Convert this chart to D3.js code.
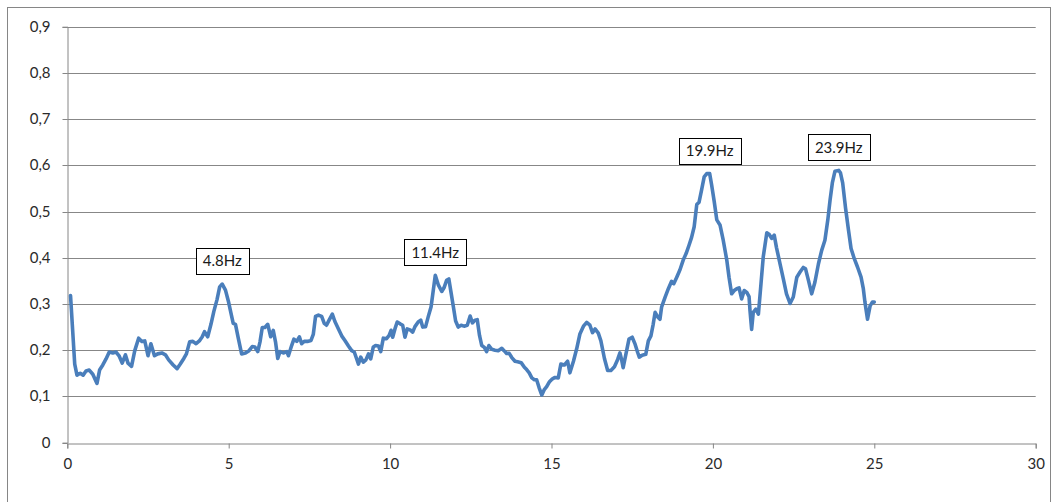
<!DOCTYPE html>
<html>
<head>
<meta charset="utf-8">
<script src="https://cdn.jsdelivr.net/npm/d3@7/dist/d3.min.js"></script>
<style>
  html, body { margin: 0; padding: 0; background: #fff; }
  svg { display: block; font-family: Lato, "Open Sans", sans-serif; }
</style>
</head>
<body>
<svg id="chart" width="1059" height="502"></svg>
<script>
// Spectrum amplitude vs frequency (Hz)
const freqHz = [
  0.10, 0.23, 0.30, 0.40, 0.49, 0.58, 0.68, 0.79, 0.92, 1.00,
  1.10, 1.20, 1.30, 1.41, 1.51, 1.61, 1.70, 1.80, 1.88, 1.99,
  2.09, 2.21, 2.31, 2.40, 2.50, 2.59, 2.70, 2.80, 2.93, 3.04,
  3.14, 3.28, 3.40, 3.50, 3.61, 3.69, 3.79, 3.89, 3.99, 4.09,
  4.18, 4.25, 4.35, 4.45, 4.54, 4.64, 4.72, 4.80, 4.90, 4.99,
  5.07, 5.14, 5.21, 5.30, 5.40, 5.52, 5.63, 5.73, 5.81, 5.90,
  5.97, 6.04, 6.12, 6.21, 6.30, 6.38, 6.45, 6.52, 6.59, 6.69,
  6.80, 6.85, 6.95, 7.02, 7.11, 7.19, 7.26, 7.34, 7.44, 7.55,
  7.62, 7.69, 7.78, 7.88, 7.96, 8.03, 8.11, 8.21, 8.29, 8.40,
  8.50, 8.60, 8.71, 8.81, 8.89, 8.96, 9.02, 9.09, 9.17, 9.25,
  9.33, 9.40, 9.48, 9.55, 9.64, 9.71, 9.79, 9.89, 9.97, 10.03,
  10.08, 10.15, 10.22, 10.31, 10.39, 10.46, 10.53, 10.62, 10.70, 10.77,
  10.87, 10.95, 11.01, 11.10, 11.18, 11.27, 11.34, 11.40, 11.49, 11.60,
  11.67, 11.75, 11.82, 11.89, 11.96, 12.03, 12.11, 12.20, 12.29, 12.39,
  12.48, 12.55, 12.63, 12.70, 12.77, 12.84, 12.92, 12.99, 13.06, 13.15,
  13.25, 13.35, 13.46, 13.53, 13.61, 13.69, 13.77, 13.87, 13.95, 14.06,
  14.16, 14.23, 14.31, 14.39, 14.47, 14.54, 14.62, 14.70, 14.77, 14.85,
  14.93, 15.03, 15.11, 15.21, 15.29, 15.40, 15.50, 15.57, 15.68, 15.78,
  15.88, 15.99, 16.09, 16.19, 16.27, 16.35, 16.45, 16.53, 16.64, 16.74,
  16.84, 16.95, 17.05, 17.12, 17.17, 17.22, 17.31, 17.40, 17.50, 17.59,
  17.67, 17.72, 17.81, 17.92, 18.00, 18.08, 18.15, 18.21, 18.29, 18.36,
  18.41, 18.52, 18.62, 18.72, 18.79, 18.88, 18.98, 19.08, 19.17, 19.26,
  19.34, 19.42, 19.50, 19.57, 19.65, 19.73, 19.81, 19.90, 19.96, 20.04,
  20.12, 20.22, 20.32, 20.43, 20.50, 20.58, 20.66, 20.74, 20.81, 20.89,
  20.97, 21.05, 21.12, 21.15, 21.20, 21.25, 21.33, 21.41, 21.49, 21.56,
  21.67, 21.74, 21.82, 21.90, 21.97, 22.08, 22.18, 22.28, 22.39, 22.49,
  22.60, 22.70, 22.80, 22.87, 22.96, 23.06, 23.16, 23.27, 23.37, 23.47,
  23.56, 23.63, 23.70, 23.78, 23.90, 23.95, 24.02, 24.11, 24.20, 24.28,
  24.38, 24.48, 24.59, 24.66, 24.71, 24.79, 24.87, 24.94, 25.00
];

const amplitude = [
  0.318, 0.170, 0.146, 0.150, 0.146, 0.155, 0.157, 0.148, 0.128, 0.157,
  0.168, 0.181, 0.196, 0.194, 0.196, 0.187, 0.172, 0.190, 0.172, 0.165,
  0.199, 0.226, 0.219, 0.220, 0.188, 0.214, 0.188, 0.192, 0.194, 0.190,
  0.179, 0.168, 0.160, 0.170, 0.182, 0.192, 0.218, 0.219, 0.214, 0.220,
  0.229, 0.240, 0.229, 0.256, 0.284, 0.310, 0.337, 0.343, 0.330, 0.306,
  0.280, 0.258, 0.256, 0.225, 0.192, 0.194, 0.199, 0.208, 0.207, 0.197,
  0.218, 0.249, 0.249, 0.256, 0.229, 0.243, 0.218, 0.182, 0.197, 0.194,
  0.197, 0.188, 0.210, 0.224, 0.219, 0.229, 0.214, 0.219, 0.219, 0.221,
  0.234, 0.273, 0.276, 0.273, 0.258, 0.254, 0.265, 0.278, 0.262, 0.246,
  0.231, 0.221, 0.209, 0.199, 0.196, 0.182, 0.170, 0.185, 0.174, 0.179,
  0.192, 0.181, 0.207, 0.210, 0.209, 0.197, 0.226, 0.225, 0.232, 0.243,
  0.228, 0.246, 0.261, 0.257, 0.254, 0.228, 0.246, 0.244, 0.239, 0.251,
  0.261, 0.265, 0.250, 0.251, 0.272, 0.294, 0.331, 0.362, 0.342, 0.327,
  0.335, 0.351, 0.354, 0.324, 0.294, 0.263, 0.250, 0.254, 0.252, 0.254,
  0.274, 0.259, 0.265, 0.266, 0.232, 0.210, 0.206, 0.197, 0.210, 0.202,
  0.200, 0.199, 0.204, 0.199, 0.193, 0.193, 0.184, 0.176, 0.175, 0.173,
  0.163, 0.158, 0.151, 0.140, 0.136, 0.136, 0.118, 0.103, 0.114, 0.121,
  0.131, 0.138, 0.141, 0.140, 0.170, 0.168, 0.176, 0.151, 0.176, 0.203,
  0.235, 0.252, 0.260, 0.254, 0.238, 0.246, 0.237, 0.220, 0.182, 0.156,
  0.156, 0.164, 0.180, 0.194, 0.180, 0.162, 0.193, 0.224, 0.228, 0.213,
  0.195, 0.185, 0.189, 0.191, 0.220, 0.231, 0.256, 0.282, 0.272, 0.267,
  0.293, 0.315, 0.333, 0.349, 0.344, 0.358, 0.374, 0.395, 0.409, 0.427,
  0.444, 0.467, 0.515, 0.520, 0.547, 0.575, 0.582, 0.582, 0.558, 0.522,
  0.482, 0.471, 0.438, 0.395, 0.358, 0.322, 0.329, 0.333, 0.335, 0.311,
  0.329, 0.325, 0.316, 0.285, 0.245, 0.282, 0.289, 0.278, 0.344, 0.402,
  0.454, 0.451, 0.442, 0.449, 0.422, 0.387, 0.355, 0.322, 0.301, 0.315,
  0.358, 0.369, 0.379, 0.376, 0.351, 0.322, 0.347, 0.387, 0.416, 0.438,
  0.482, 0.525, 0.562, 0.587, 0.589, 0.584, 0.562, 0.507, 0.460, 0.420,
  0.398, 0.380, 0.358, 0.333, 0.304, 0.267, 0.296, 0.304, 0.304
];

// Peak annotations
const peakLabels = ["4.8Hz", "11.4Hz", "19.9Hz", "23.9Hz"];
const peakFreq = [4.80, 11.40, 19.90, 23.90];

const xTicks = [0, 5, 10, 15, 20, 25, 30];
const yTicks = [0, 0.1, 0.2, 0.3, 0.4, 0.5, 0.6, 0.7, 0.8, 0.9];

const svg = d3.select("#chart");
const FONT = "Lato, 'Open Sans', sans-serif";

const x = d3.scaleLinear().domain([0, 30]).range([67.3, 1035.7]);
const y = d3.scaleLinear().domain([0, 0.9]).range([442.6, 26.7]);

// Outer chart frame
svg.append("rect")
  .attr("x", 7.5).attr("y", 7.5)
  .attr("width", 1043).attr("height", 500)
  .attr("fill", "#fff")
  .attr("stroke", "#868686")
  .attr("stroke-width", 1);

// Horizontal gridlines
svg.append("g")
  .selectAll("line")
  .data(yTicks.filter(d => d > 0))
  .join("line")
  .attr("x1", x(0)).attr("x2", x(30))
  .attr("y1", d => Math.round(y(d)) + 0.5)
  .attr("y2", d => Math.round(y(d)) + 0.5)
  .attr("stroke", "#878787")
  .attr("stroke-width", 1);

// Axes
const fmt = d => d === 0 ? "0" : d3.format(".1f")(d).replace(".", ",");

const yAxis = svg.append("g")
  .attr("transform", `translate(${Math.round(x(0)) + 0.5},0)`)
  .call(d3.axisLeft(y).tickValues(yTicks).tickFormat(fmt).tickSize(5).tickPadding(12));

const xAxis = svg.append("g")
  .attr("transform", `translate(0,${Math.round(y(0)) + 0.5})`)
  .call(d3.axisBottom(x).tickValues(xTicks).tickFormat(d3.format("d")).tickSize(5).tickPadding(10));

[yAxis, xAxis].forEach(g => {
  g.select(".domain").attr("stroke", "#868686");
  g.selectAll(".tick line").attr("stroke", "#868686");
  g.selectAll(".tick text")
    .attr("fill", "#2a2a2a")
    .style("font-size", "15px")
    .style("font-family", FONT);
});
yAxis.selectAll(".tick").attr("transform", d => `translate(0,${Math.round(y(d)) + 0.5})`);

// Spectrum line
const series = freqHz.map((f, i) => ({ f, a: amplitude[i] }));
svg.append("path")
  .datum(series)
  .attr("fill", "none")
  .attr("stroke", "#4a7ebb")
  .attr("stroke-width", 3.6)
  .attr("stroke-linejoin", "round")
  .attr("stroke-linecap", "round")
  .attr("d", d3.line().x(d => x(d.f)).y(d => y(d.a)));

// Peak labels in boxed callouts above the peaks
const labelGroup = svg.append("g");
peakLabels.forEach((txt, i) => {
  const idx = d3.minIndex(freqHz, f => Math.abs(f - peakFreq[i]));
  const px = x(peakFreq[i]);
  const py = y(amplitude[idx]);
  const g = labelGroup.append("g");
  const t = g.append("text")
    .attr("x", px)
    .attr("text-anchor", "middle")
    .attr("fill", "#1a1a1a")
    .style("font-size", "15px")
    .style("font-family", FONT)
    .text(txt);
  const bb = t.node().getBBox();
  const boxH = 26, padX = 7;
  const boxBottom = py - 10;
  const boxTop = boxBottom - boxH;
  t.attr("y", boxTop + boxH / 2 + 5.3);
  g.insert("rect", "text")
    .attr("x", Math.round(px - bb.width / 2 - padX) + 0.5)
    .attr("y", Math.round(boxTop) + 0.5)
    .attr("width", Math.round(bb.width + 2 * padX))
    .attr("height", boxH)
    .attr("fill", "#fff")
    .attr("stroke", "#000")
    .attr("stroke-width", 1);
});
</script>
</body>
</html>
